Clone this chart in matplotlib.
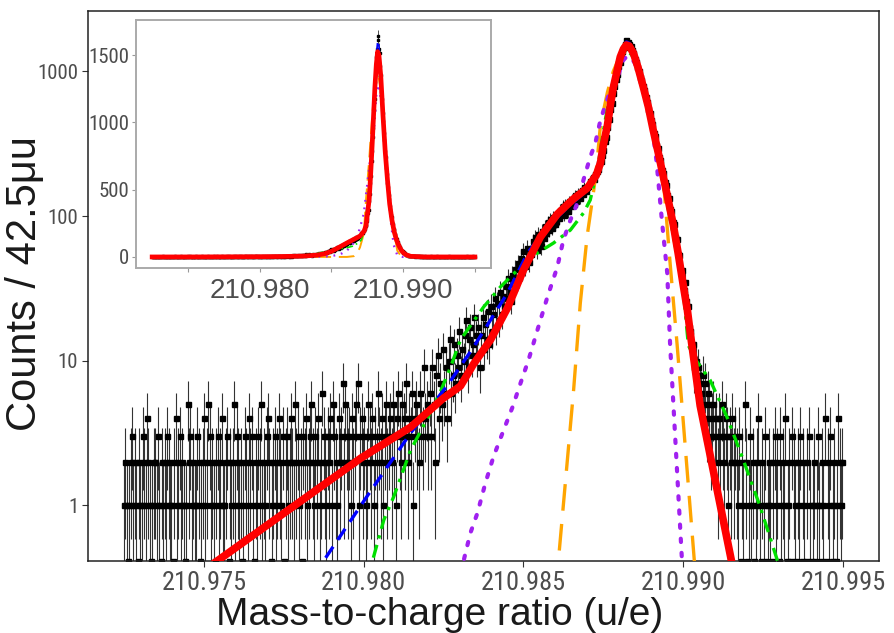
import numpy as np
import matplotlib.pyplot as plt
from matplotlib.ticker import NullLocator

REGULAR = ["Liberation Sans", "DejaVu Sans"]
NARROW = ["Liberation Sans Narrow", "Arial Narrow", "Roboto Condensed", "Liberation Sans", "DejaVu Sans"]
plt.rcParams["font.family"] = REGULAR

# histogram: 42.5 micro-u bins starting at 210.9725
BIN_START = 210.9725
BIN_WIDTH = 42.5e-6

counts_tail_left = [
  1, 2, 1, 0, 1, 2, 3, 1, 2, 1, 0, 2, 1, 1, 3, 2, 1, 4, 2, 1, 0, 1, 2, 2, 1, 3, 1, 0, 2, 1,
  2, 1, 3, 2, 1, 1, 0, 2, 4, 1, 2, 3, 1, 2, 1, 0, 1, 5, 2, 3, 1, 2, 1, 1, 3, 2, 0, 1, 2, 4,
  1, 2, 5, 3, 1, 2, 1, 0, 2, 3, 1, 2, 4, 1, 1, 2, 3, 0, 2, 1, 2, 5, 1, 3, 2, 1, 2, 0, 1, 3,
  2, 1, 4, 2, 3, 1, 0, 2, 1, 3, 2, 5, 1, 2, 1, 3, 4, 2, 0, 1, 2, 3, 1, 2, 4, 2, 1, 3, 0, 2,
  3, 1, 2, 4, 2, 1, 5, 2, 3, 1, 2, 0, 3, 2, 4, 1, 2, 3, 5, 2, 1, 3, 2, 4, 1, 2, 6, 3, 2, 1,
  3, 2, 4, 1, 5, 3, 2, 1, 4, 2, 3, 7, 2, 5, 3,
]
counts_rise = [
  2, 3, 1, 4, 2, 3, 5, 7, 1, 3, 4, 2, 3, 1, 2, 5, 3, 2, 4, 1, 3, 2, 6, 3, 2, 4, 1, 3, 5, 2,
  3, 4, 2, 5, 3, 1, 4, 6, 3, 2, 5, 4, 3, 7, 2, 4, 3, 6, 1, 4, 5, 3, 2, 6, 4, 3, 9, 4, 5, 3,
  6, 3, 9, 5, 2, 8, 11, 4, 7, 5, 12, 6, 9, 4, 10, 14, 6, 8, 13, 7, 11, 9, 16, 8, 12, 10,
  15, 19, 9, 14, 17, 11, 13, 20, 15,
]
counts_shoulder = [
  11, 17, 9, 15, 20, 12, 18, 14, 22, 13,
  24, 16, 21, 27, 17, 25, 19, 30, 21, 28,
  24, 33, 27, 37, 30, 26, 39, 32, 43, 35,
  47, 38, 51, 42, 57, 45, 49, 60, 48, 56,
  55, 67, 61, 72, 58, 75, 66, 62, 79, 70,
  85, 76, 91, 80, 95, 83, 99, 88, 92, 101,
  97, 110, 104, 118, 102, 121, 112, 108, 126, 117,
  131, 122, 140, 128, 145, 136, 133, 151, 142, 158, 149,
]
counts_peak = [
  158, 162, 176, 171, 187, 180, 196, 204, 211, 232,
  240, 265, 284, 330, 352, 415, 470, 552, 603, 712,
  790, 893, 958, 1095, 1172, 1302, 1380, 1486, 1548, 1642,
  1610, 1547, 1512, 1418, 1352, 1228, 1171, 1069, 1012, 921,
  872, 790, 744, 662, 618, 548, 517, 458, 431, 378,
  356, 312, 296, 255, 243, 209, 198, 171, 164, 140,
  133, 112, 109, 91, 88, 72, 69, 55, 54, 41,
  42, 31, 35, 26, 24, 17, 16, 12, 13, 9,
]
counts_tail_right = [
  10, 8, 9, 7, 6, 8, 5, 7, 4, 6, 5, 3, 4, 5, 3, 4, 2, 4, 3, 5, 3, 2, 4, 3, 1, 3, 2, 4, 2, 3,
  2, 1, 3, 0, 2, 1, 5, 2, 0, 1, 3, 1, 2, 0, 1, 2, 4, 1, 0, 2, 1, 3, 0, 1, 2, 1, 0, 2, 3, 1,
  2, 0, 3, 1, 2, 1, 4, 0, 1, 2, 0, 3, 2, 1, 0, 2, 1, 3, 0, 2, 1, 0, 2, 3, 1, 0, 1, 2, 0, 1,
  3, 1, 0, 2, 1, 4, 0, 2, 1, 3, 0, 1, 2, 0, 1, 4, 2, 1, 2,
]

# fitted model curves
red_x = [210.9725, 210.97538, 210.97991, 210.98147, 210.98250, 210.98303, 210.98344,
         210.98397, 210.98450, 210.98500, 210.98553, 210.98606, 210.98656, 210.98700,
         210.98728, 210.98741, 210.98750, 210.98763, 210.98772, 210.98781, 210.98803,
         210.98813, 210.98822, 210.98831, 210.98844, 210.98859, 210.98875, 210.98891,
         210.98906, 210.98922, 210.98938, 210.98953, 210.98969, 210.98984, 210.99000,
         210.99013, 210.99022, 210.99053, 210.99153, 210.99500]
red_y = [0.14, 0.405, 2.11, 3.46, 5.5, 6.66, 9.46, 13.9, 23.1, 42.3, 71.6, 103, 131, 156,
         192, 233, 310, 426, 587, 769, 1260, 1431, 1525, 1500, 1343, 1058, 781, 568, 394,
         273, 186, 129, 86.7, 55.5, 33.3, 22.3, 15.5, 4.87, 0.39, 0.001]

blue_x = [210.9725, 210.97866, 210.98013, 210.98147, 210.98263, 210.98344, 210.98450,
          210.98513, 210.98575, 210.98638, 210.98700, 210.98728, 210.98741, 210.98750,
          210.98763, 210.98772, 210.98781, 210.98803, 210.98813, 210.98822, 210.98831,
          210.98844, 210.98859, 210.98875, 210.98891, 210.98906, 210.98922, 210.98938,
          210.98953, 210.98969, 210.98984, 210.99000, 210.99013, 210.99022, 210.99053,
          210.99150, 210.99500]
blue_y = [0.001, 0.385, 1.17, 3.15, 6.77, 12.4, 29.3, 55.5, 83.9, 115, 151, 186, 240, 318,
          440, 600, 790, 1310, 1500, 1600, 1570, 1400, 1090, 800, 575, 395, 273, 186, 129,
          86.7, 55.5, 33.3, 22.3, 15.5, 4.87, 0.39, 0.001]

green_x = [210.9725, 210.98022, 210.98063, 210.98094, 210.98147, 210.98200, 210.98241,
           210.98272, 210.98303, 210.98375, 210.98428, 210.98491, 210.98544, 210.98594,
           210.98647, 210.98688, 210.98709, 210.98731, 210.98756, 210.98778, 210.98800,
           210.98822, 210.98844, 210.98875, 210.98906, 210.98938, 210.98969, 210.99000,
           210.99016, 210.99032, 210.99084, 210.99137, 210.99188, 210.99241, 210.99300,
           210.99500]
green_y = [0.001, 0.37, 0.787, 1.14, 2.4, 4.0, 6.15, 9.0, 13.9, 23.4, 32.3, 44.4, 55.5, 65,
           80, 105, 129, 208, 461, 807, 1240, 1430, 1260, 745, 363, 164, 74, 30.7, 12.8,
           10.6, 7.33, 4.06, 2.05, 0.97, 0.38, 0.001]

purple_x = [210.9725, 210.98309, 210.98334, 210.98356, 210.98381, 210.98406, 210.98438,
            210.98466, 210.98491, 210.98516, 210.98544, 210.98575, 210.98606, 210.98625,
            210.98647, 210.98669, 210.98688, 210.98709, 210.98725, 210.98741, 210.98772,
            210.98794, 210.98813, 210.98825, 210.98847, 210.98875, 210.98897, 210.98916,
            210.98934, 210.98950, 210.98959, 210.98997, 210.99500]
purple_y = [0.001, 0.38, 0.64, 0.88, 1.42, 2.15, 3.3, 4.77, 6.98, 10.1, 16.3, 27.5, 44.4,
            68.2, 93.8, 123, 178, 256, 320, 461, 745, 902, 1202, 1280, 1164, 781, 525, 244,
            89.5, 40.3, 12.8, 0.38, 0.001]

orange_x = [210.9725, 210.98608, 210.98657, 210.98678, 210.98699, 210.98720, 210.98728,
            210.98741, 210.98763, 210.98781, 210.98803, 210.98822, 210.98844, 210.98875,
            210.98906, 210.98938, 210.98959, 210.98981, 210.99036, 210.99500]
orange_y = [0.001, 0.38, 6.25, 25, 71.6, 151, 208, 426, 720, 1000, 1300, 1380, 1240, 745,
            380, 176, 47, 12.8, 0.38, 0.001]

x_ticks = [210.975, 210.980, 210.985, 210.990, 210.995]
x_tick_labels = ["210.975", "210.980", "210.985", "210.990", "210.995"]
inset_x_tick_labels = ["", "210.980", "", "210.990", ""]
y_ticks = [1, 10, 100, 1000]
inset_y_ticks = [0, 500, 1000, 1500]

counts = np.array(counts_tail_left + counts_rise + counts_shoulder + counts_peak
                  + counts_tail_right, dtype=float)
x = BIN_START + BIN_WIDTH * np.arange(len(counts))
err = np.sqrt(counts)
nonzero = counts > 0

X_LIM = (210.971375, 210.996125)
Y_LIM = (0.41, 2620)

curves = [
  (orange_x, orange_y, "#FFA500", (0, (8, 4)), 2.4, 1.4),
  (purple_x, purple_y, "#A020F0", (0, (0.8, 2.6)), 3.0, 1.6),
  (green_x, green_y, "#00E000", (0, (4, 2, 1, 2)), 2.4, 1.2),
  (blue_x, blue_y, "#0000FF", (0, (4, 2.5)), 2.4, 1.2),
  (red_x, red_y, "#FF0000", "-", 5.5, 3.4),
]


def _font(labels, family, size):
  for lbl in labels:
    lbl.set_fontfamily(family)
    lbl.set_fontsize(size)


fig = plt.figure(figsize=(8.95, 6.33), dpi=100)
ax = fig.add_axes([0.0983, 0.1137, 0.8838, 0.8689])
ax.set_yscale("log")

ax.errorbar(x[nonzero], counts[nonzero], yerr=err[nonzero], fmt="s", ms=3.6,
            color="black", ecolor="#333333", elinewidth=0.8, capsize=0, zorder=2)
ax.plot(x[~nonzero], np.full((~nonzero).sum(), Y_LIM[0]), "s", ms=3.6,
        color="black", zorder=2)

for cx, cy, col, ls, lw, _ in curves:
  ax.plot(cx, cy, color=col, linestyle=ls, linewidth=lw, zorder=3,
          solid_capstyle="butt", dash_capstyle="butt" if col != "#A020F0" else "round")

ax.set_xlim(*X_LIM)
ax.set_ylim(*Y_LIM)
ax.set_xticks(x_ticks)
ax.set_xticklabels(x_tick_labels)
ax.set_yticks(y_ticks)
ax.set_yticklabels([str(v) for v in y_ticks])
ax.yaxis.set_minor_locator(NullLocator())
ax.tick_params(axis="both", length=4, width=0.8, color="#333333", labelcolor="#4D4D4D")
ax.tick_params(axis="x", pad=3)
ax.tick_params(axis="y", pad=3)
_font(ax.get_xticklabels(), NARROW, 19)
_font(ax.get_yticklabels(), NARROW, 15)
for sp in ax.spines.values():
  sp.set_color("#222222")
  sp.set_linewidth(1.1)
ax.set_xlabel("Mass-to-charge ratio (u/e)", fontsize=28, color="#1A1A1A")
ax.set_ylabel("Counts / 42.5μu", fontsize=30, color="#1A1A1A")
ax.xaxis.set_label_coords(0.445, -0.066)
ax.yaxis.set_label_coords(-0.054, 0.505)

# linear-scale inset
ins = fig.add_axes([0.152, 0.5766, 0.3966, 0.3918])
ins.errorbar(x, counts, yerr=err, fmt="s", ms=1.8, color="black", ecolor="#333333",
             elinewidth=0.6, capsize=0, zorder=2)
for cx, cy, col, ls, _, lw in curves:
  ins.plot(cx, cy, color=col, linestyle=ls, linewidth=lw, zorder=3)
ins.set_xlim(*X_LIM)
ins.set_ylim(-82, 1760)
ins.set_xticks(x_ticks)
ins.set_xticklabels(inset_x_tick_labels)
ins.set_yticks(inset_y_ticks)
ins.set_yticklabels([str(v) for v in inset_y_ticks])
ins.tick_params(axis="both", length=3, width=0.8, color="#999999", labelcolor="#4D4D4D")
ins.tick_params(axis="x", pad=4)
ins.tick_params(axis="y", pad=2)
_font(ins.get_xticklabels(), REGULAR, 20)
_font(ins.get_yticklabels(), NARROW, 15)
for sp in ins.spines.values():
  sp.set_color("#AAAAAA")
  sp.set_linewidth(1.4)

fig.savefig("out.png", dpi=100, facecolor="white")
